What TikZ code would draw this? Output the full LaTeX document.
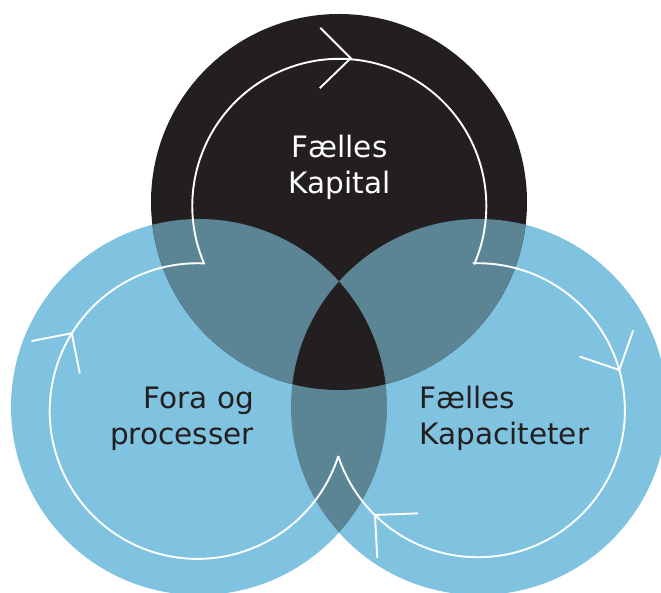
\documentclass[tikz,border=0pt]{standalone}
\usepackage{fontspec}
\setmainfont{DejaVu Sans}
\usepackage{tikz}
\definecolor{ringblack}{RGB}{35,31,32}
\definecolor{ringblue}{RGB}{128,195,224}
\definecolor{ringteal}{RGB}{91,133,149}
\tikzset{loopline/.style={white,line width=1.9pt,line join=miter}}
\tikzset{looptip/.style={white,line width=1.9pt}}
\tikzset{ringtext/.style={inner sep=0pt,font=\fontsize{29.5}{36}\selectfont}}

\begin{document}
\begin{tikzpicture}[x=1pt,y=1pt]
\path[use as bounding box, clip] (0,0) rectangle (661,593);

% circles
\coordinate (top) at (339,391);
\coordinate (left) at (199,186);
\coordinate (right) at (479,186);
\fill[ringblue] (left) circle[radius=188pt];
\fill[ringblue] (right) circle[radius=188pt];
\fill[ringblack] (top) circle[radius=188pt];

% overlaps
\begin{scope}
\clip (top) circle[radius=188pt];
\fill[ringteal] (left) circle[radius=188pt];
\fill[ringteal] (right) circle[radius=188pt];
\end{scope}
\begin{scope}
\clip (left) circle[radius=188pt];
\fill[ringteal] (right) circle[radius=188pt];
\clip (top) circle[radius=188pt];
\fill[ringblack] (right) circle[radius=188pt];
\end{scope}

% loop
\coordinate (a) at (204,329.7);
\coordinate (b) at (474.3,329.7);
\coordinate (c) at (338.3,137);
\draw[loopline] (a) arc[start angle=203, end angle=-23.1, radius=147pt] -- (b)
  arc[start angle=91.4, end angle=-161.8, radius=147pt] -- (c)
  arc[start angle=-17.7, end angle=-272.5, radius=147.8pt] -- cycle;

% tips
\coordinate (t1) at (350.7,534.7);
\coordinate (t2) at (619.3,223);
\coordinate (t3) at (71.7,259.7);
\coordinate (t4) at (375,78);
\draw[looptip] (t1) ++(135:43pt) -- (t1) -- ++(224:43pt);
\draw[looptip] (t2) ++(70.7:42pt) -- (t2) -- ++(161.3:42pt);
\draw[looptip] (t3) ++(190.9:41pt) -- (t3) -- ++(281.4:41pt);
\draw[looptip] (t4) ++(2.2:43pt) -- (t4) -- ++(-87:43pt);

% labels
\node[ringtext, white, align=center, anchor=base] (kapital) at (339.5,399.7) {Fælles\\Kapital};
\node[ringtext, ringblack, align=right, anchor=base east] (fora) at (254,148) {Fora og\\processer};
\node[ringtext, ringblack, align=left, anchor=base west] (kapacitet) at (419.3,148) {Fælles\\Kapaciteter};
\end{tikzpicture}
\end{document}
